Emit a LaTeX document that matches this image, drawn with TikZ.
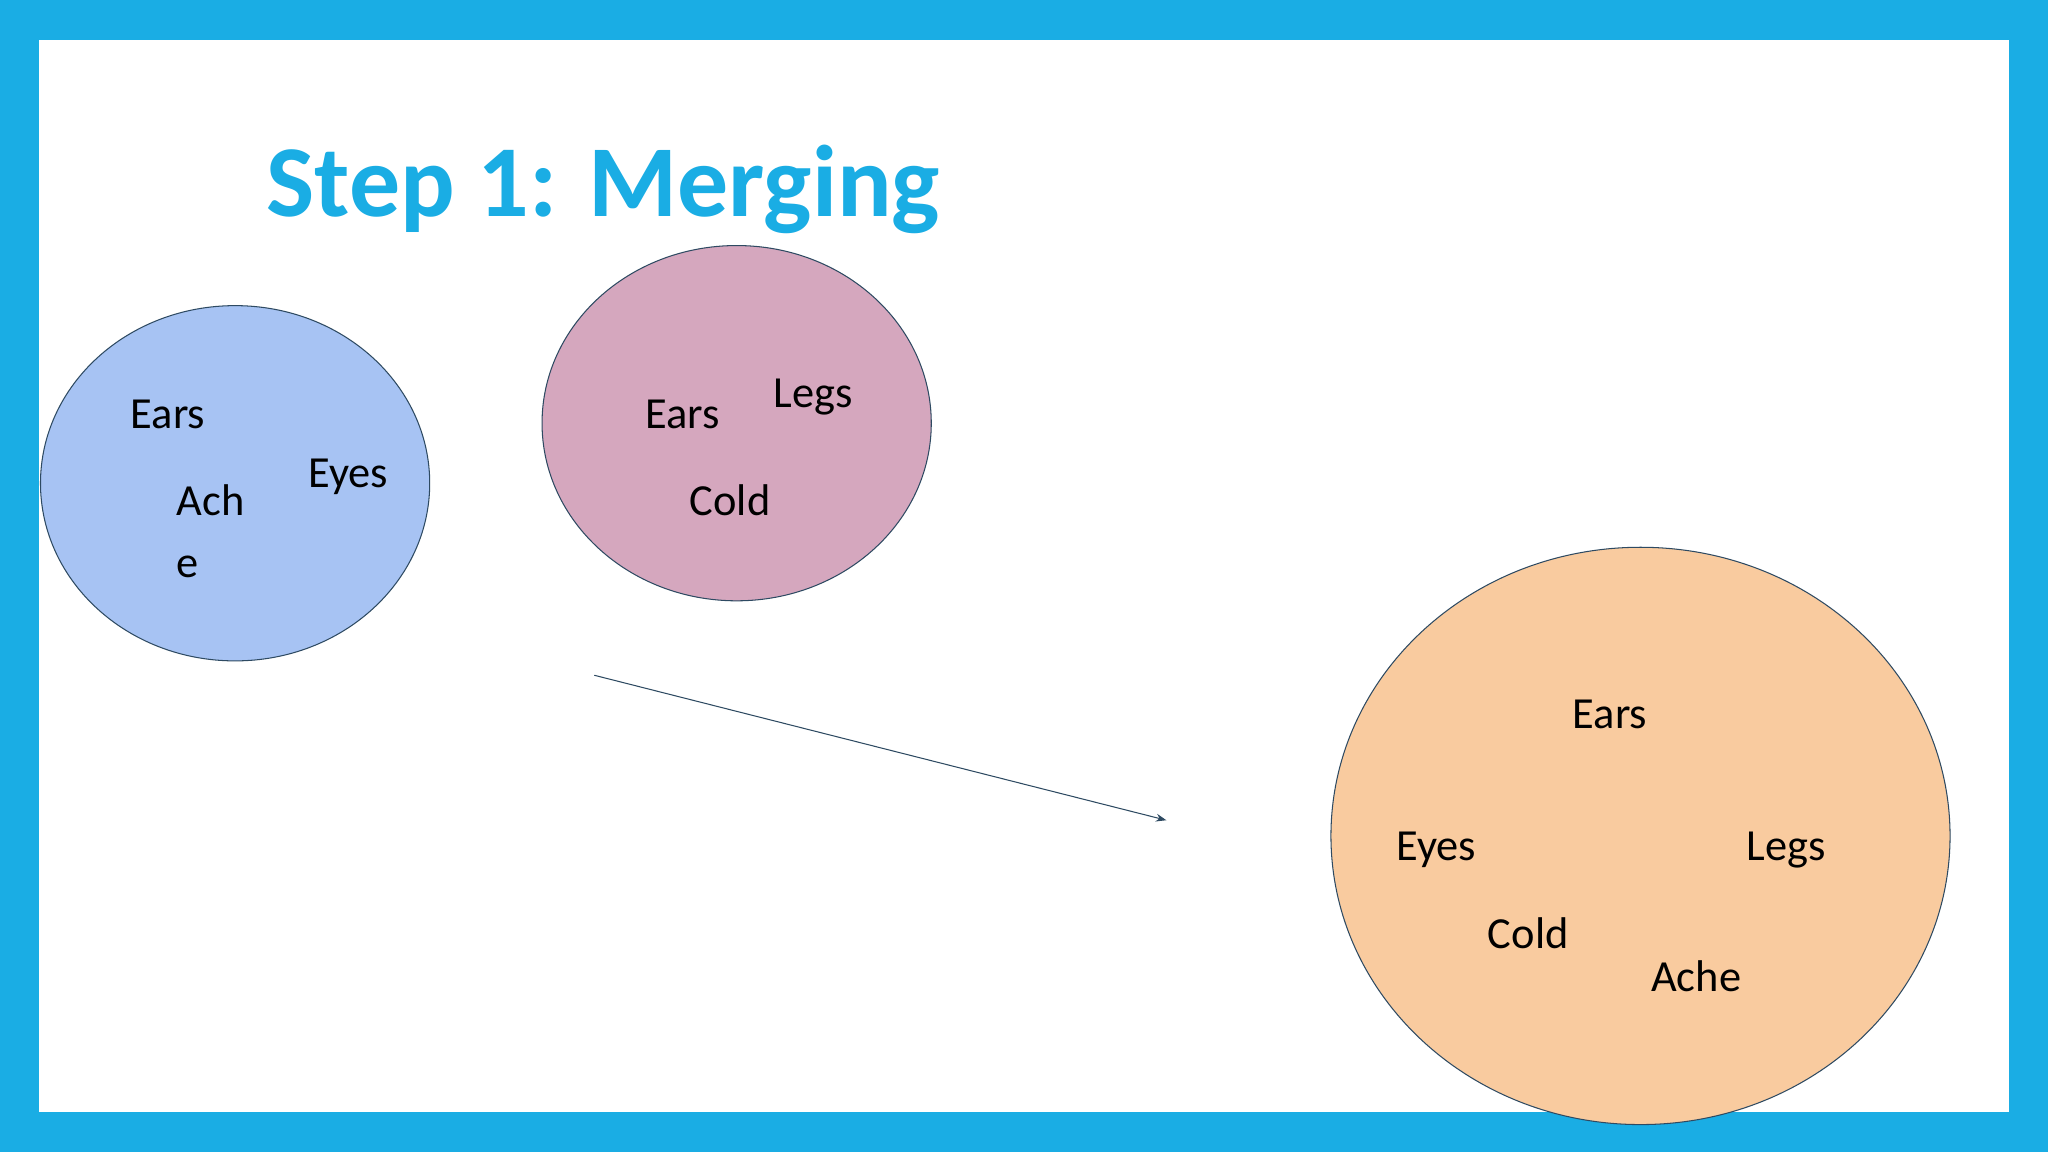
\documentclass[tikz,border=0pt]{standalone}
\usepackage{fontspec}
\setmainfont{Carlito}
\usetikzlibrary{arrows.meta,shapes.geometric}
\definecolor{frame}{HTML}{1AADE4}
\definecolor{cblue}{HTML}{A7C3F3}
\definecolor{cpink}{HTML}{D5A7BE}
\definecolor{corange}{HTML}{F9CB9F}
\definecolor{edge}{HTML}{2E4A62}
\tikzset{lbl/.style={inner sep=0pt,anchor=base west,font=\fontsize{34}{40}\selectfont},
circ/.style={draw=edge,line width=0.8pt}}
\begin{document}
\begin{tikzpicture}[x=1pt,y=-1pt]
\useasboundingbox (0,0) rectangle (1568,882);
\fill[frame] (0,0) rectangle (1568,882);
\fill[white] (30,31) rectangle (1538,851);
\node[inner sep=0pt,anchor=base west,text=frame,font=\fontsize{78}{90}\selectfont\bfseries] (title) at (204,166) {Step 1: Merging};
\node[circ,fill=cblue,ellipse,minimum width=298,minimum height=272,inner sep=0] (b) at (180,370) {};
\node[circ,fill=cpink,ellipse,minimum width=298,minimum height=272,inner sep=0] (p) at (564,324) {};
\node[circ,fill=corange,ellipse,minimum width=474,minimum height=442,inner sep=0] (o) at (1256,640) {};
\coordinate (s) at (455,517);
\coordinate (e) at (893,628);
\draw[edge,line width=0.8pt,-{Stealth[length=8pt,width=6pt]}] (s) -- (e);
\node[lbl] (b1) at (100,328) {Ears};
\node[lbl] (b2) at (236,373) {Eyes};
\node[lbl] (b3) at (135,395) {Ach};
\node[lbl] (b4) at (135,442) {e};
\node[lbl] (p1) at (494,328) {Ears};
\node[lbl] (p2) at (592,312) {Legs};
\node[lbl] (p3) at (528,395) {Cold};
\node[lbl] (o1) at (1204,558) {Ears};
\node[lbl] (o2) at (1069,659) {Eyes};
\node[lbl] (o3) at (1337,659) {Legs};
\node[lbl] (o4) at (1139,726) {Cold};
\node[lbl] (o5) at (1264,759) {Ache};
\end{tikzpicture}
\end{document}
